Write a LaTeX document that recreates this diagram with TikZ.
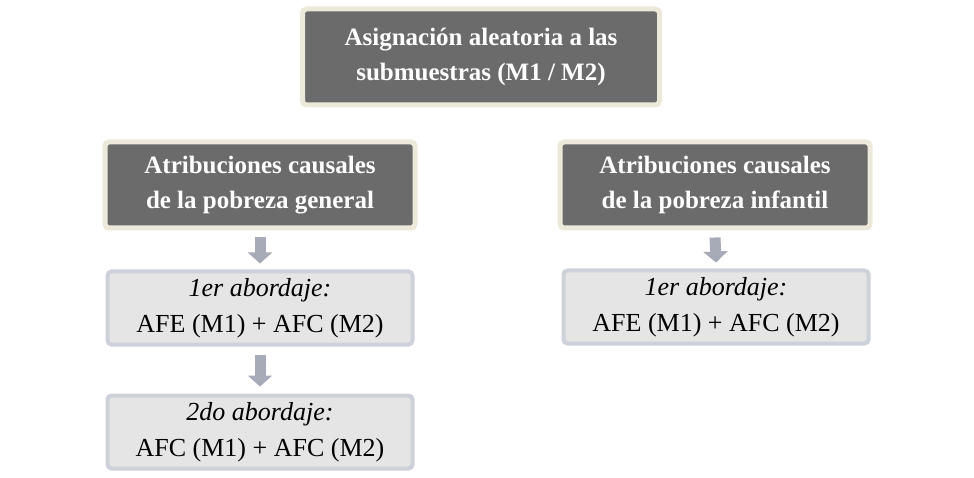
\documentclass[tikz,border=0pt]{standalone}
\usepackage{fontspec}
\setmainfont{Liberation Serif}
\newfontfamily\tnr{Liberation Serif}
\usetikzlibrary{arrows.meta}
\definecolor{darkfill}{HTML}{6B6B6B}
\definecolor{darkedge}{HTML}{ECE9DA}
\definecolor{lightfill}{HTML}{E5E5E5}
\definecolor{lightedge}{HTML}{CDD1DA}
\definecolor{arr}{HTML}{A6ABB7}
\begin{document}
\begin{tikzpicture}[x=1pt,y=-1pt,
  darkbox/.style={rectangle,rounded corners=4pt,fill=darkfill,draw=darkedge,line width=5pt,
    text=white,font=\tnr\fontsize{25}{35}\selectfont\bfseries,align=center,inner sep=0pt},
  lightbox/.style={rectangle,rounded corners=4pt,fill=lightfill,draw=lightedge,line width=4pt,
    font=\tnr\fontsize{26}{36}\selectfont,align=center,inner sep=0pt,minimum width=305pt,minimum height=73pt},
  blk/.style={arr,line width=11pt,-{Triangle[width=24pt,length=11pt]}}]
\useasboundingbox (0,0) rectangle (974,478);
\node[darkbox,minimum width=357pt,minimum height=96pt] (top) at (481,57) {Asignación aleatoria a las\\submuestras (M1 / M2)};
\node[darkbox,minimum width=310pt,minimum height=86pt] (lg) at (260,185) {Atribuciones causales\\de la pobreza general};
\node[darkbox,minimum width=310pt,minimum height=86pt] (ri) at (715,185) {Atribuciones causales\\de la pobreza infantil};
\node[lightbox] (l1) at (260,308) {\textit{1er abordaje:}\\AFE (M1) + AFC (M2)};
\node[lightbox] (l2) at (260,432) {\textit{2do abordaje:}\\AFC (M1) + AFC (M2)};
\node[lightbox] (r1) at (716,307) {\textit{1er abordaje:}\\AFE (M1) + AFC (M2)};
\draw[blk] ([yshift=-7pt]lg.south) -- ([yshift=6pt]l1.north);
\draw[blk] ([yshift=-8pt]l1.south) -- ([yshift=7pt]l2.north);
\draw[blk] ([yshift=-7pt]ri.south) -- ([yshift=6pt]r1.north);
\end{tikzpicture}
\end{document}
